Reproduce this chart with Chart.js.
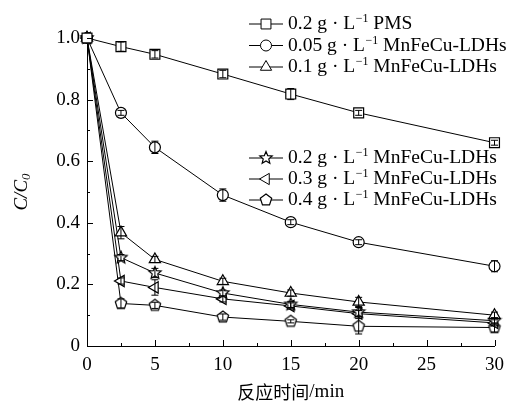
<!DOCTYPE html>
<html>
<head>
<meta charset="utf-8">
<script src="https://cdn.jsdelivr.net/npm/chart.js@4.4.1/dist/chart.umd.min.js"></script>
<style>
  html, body { margin: 0; padding: 0; background: #fff; }
  #grafico { display: block; }
</style>
</head>
<body>
<canvas id="grafico" width="512" height="403"></canvas>
<script>
const tempos = [0, 2.5, 5, 10, 15, 20, 30];

const rotulos = [
    '0.2 g · L|−1| PMS',
    '0.05 g · L|−1| MnFeCu-LDHs',
    '0.1 g · L|−1| MnFeCu-LDHs',
    '0.2 g · L|−1| MnFeCu-LDHs',
    '0.3 g · L|−1| MnFeCu-LDHs',
    '0.4 g · L|−1| MnFeCu-LDHs'
];

const pms = [1.0, 0.972, 0.947, 0.883, 0.818, 0.757, 0.66];
const ldh005 = [1.0, 0.757, 0.645, 0.49, 0.402, 0.337, 0.259];
const ldh01 = [1.0, 0.368, 0.281, 0.21, 0.172, 0.143, 0.1];
const ldh02 = [1.0, 0.287, 0.237, 0.172, 0.135, 0.11, 0.082];
const ldh03 = [1.0, 0.211, 0.19, 0.153, 0.13, 0.105, 0.075];
const ldh04 = [1.0, 0.138, 0.132, 0.094, 0.08, 0.064, 0.06];

const errPms = [0, 0.015, 0.012, 0.012, 0.018, 0.008, 0.008];
const err005 = [0, 0.008, 0.02, 0.02, 0.008, 0.008, 0.018];
const err01 = [0, 0.02, 0.01, 0.01, 0.01, 0.015, 0.01];
const err02 = [0, 0.01, 0.015, 0.01, 0.01, 0.015, 0.01];
const err03 = [0, 0.01, 0.025, 0.01, 0.01, 0.01, 0.01];
const err04 = [0, 0.015, 0.01, 0.01, 0.005, 0.025, 0.015];

const FONTE = "'Liberation Serif', 'DejaVu Serif', serif";

function criarMarcador(pontos, raio, rot) {
    const c = document.createElement('canvas');
    c.width = 16; c.height = 16;
    const g = c.getContext('2d');
    g.beginPath();
    for (let i = 0; i < pontos; i++) {
        const r = (rot && i % 2 === 1) ? raio * 0.45 : raio;
        const a = -Math.PI / 2 + i * 2 * Math.PI / pontos;
        const px = 8 + r * Math.cos(a), py = 8 + r * Math.sin(a);
        if (i === 0) g.moveTo(px, py); else g.lineTo(px, py);
    }
    g.closePath();
    g.fillStyle = '#fff';
    g.fill();
    g.lineWidth = 1.2;
    g.strokeStyle = '#000';
    g.stroke();
    return c;
}

const estrela = criarMarcador(10, 6.5, true);
const pentagono = criarMarcador(5, 6, false);

function serie(valores, erros, estilo, raio, rotacao) {
    return {
        data: tempos.map((t, i) => ({ x: t, y: valores[i] })),
        erros: erros,
        borderColor: '#000',
        borderWidth: 1,
        pointStyle: estilo,
        pointRadius: raio,
        pointRotation: rotacao || 0,
        pointBackgroundColor: '#fff',
        pointBorderColor: '#000',
        pointBorderWidth: 1.2,
        tension: 0,
        clip: false
    };
}

const conjuntos = [
    serie(pms, errPms, 'rect', 7),
    serie(ldh005, err005, 'circle', 5.5),
    serie(ldh01, err01, 'triangle', 6.5),
    serie(ldh02, err02, estrela, 6),
    serie(ldh03, err03, 'triangle', 6.5, -90),
    serie(ldh04, err04, pentagono, 6)
];

const barrasErro = {
    id: 'barrasErro',
    afterDatasetsDraw(chart) {
        const ctx = chart.ctx;
        const y = chart.scales.y;
        ctx.save();
        ctx.strokeStyle = '#000';
        ctx.lineWidth = 1;
        chart.data.datasets.forEach((ds, k) => {
            const meta = chart.getDatasetMeta(k);
            meta.data.forEach((pt, i) => {
                const e = ds.erros[i];
                if (!e) return;
                const v = ds.data[i].y;
                const y1 = y.getPixelForValue(v - e), y2 = y.getPixelForValue(v + e);
                ctx.beginPath();
                ctx.moveTo(pt.x, y1); ctx.lineTo(pt.x, y2);
                ctx.moveTo(pt.x - 3.5, y1); ctx.lineTo(pt.x + 3.5, y1);
                ctx.moveTo(pt.x - 3.5, y2); ctx.lineTo(pt.x + 3.5, y2);
                ctx.stroke();
            });
        });
        ctx.restore();
    }
};

const marcasEixo = {
    id: 'marcasEixo',
    afterDraw(chart) {
        const ctx = chart.ctx;
        const { x, y } = chart.scales;
        const area = chart.chartArea;
        ctx.save();
        ctx.strokeStyle = '#000';
        ctx.lineWidth = 1;
        ctx.beginPath();
        for (let v = 0; v <= 30.01; v += 2.5) {
            const px = Math.round(x.getPixelForValue(v)) + 0.5;
            const len = (v % 5 === 0) ? 6 : 3;
            ctx.moveTo(px, area.bottom);
            ctx.lineTo(px, area.bottom - len);
        }
        for (let i = 0; i <= 10; i++) {
            const py = Math.round(y.getPixelForValue(i / 10)) + 0.5;
            const len = (i % 2 === 0) ? 6 : 3;
            ctx.moveTo(area.left, py);
            ctx.lineTo(area.left + len, py);
        }
        ctx.stroke();

        // titulos dos eixos
        ctx.fillStyle = '#000';
        ctx.textBaseline = 'middle';
        ctx.textAlign = 'center';
        ctx.font = "18px 'Noto Sans CJK SC', sans-serif";
        const cx = (area.left + area.right) / 2;
        const tx = ctx.measureText('反应时间').width;
        ctx.font = '19px ' + FONTE;
        const tm = ctx.measureText('/min').width;
        let sx = cx - (tx + tm) / 2;
        ctx.textAlign = 'left';
        ctx.font = "18px 'Noto Sans CJK SC', sans-serif";
        ctx.fillText('反应时间', sx, 392);
        ctx.font = '19px ' + FONTE;
        ctx.fillText('/min', sx + tx, 392);

        ctx.translate(22, (area.top + area.bottom) / 2);
        ctx.rotate(-Math.PI / 2);
        ctx.font = 'italic 19px ' + FONTE;
        const w1 = ctx.measureText('C/C').width;
        ctx.font = 'italic 13px ' + FONTE;
        const w2 = ctx.measureText('0').width;
        const inicio = -(w1 + w2) / 2;
        ctx.font = 'italic 19px ' + FONTE;
        ctx.fillText('C/C', inicio, 0);
        ctx.font = 'italic 13px ' + FONTE;
        ctx.fillText('0', inicio + w1, 5);
        ctx.restore();
    }
};

const legendaPersonalizada = {
    id: 'legendaPersonalizada',
    afterDraw(chart) {
        const ctx = chart.ctx;
        const linhasY = [24, 45.5, 67, 158, 179, 200];
        ctx.save();
        chart.data.datasets.forEach((ds, k) => {
            const yy = linhasY[k];
            ctx.strokeStyle = '#000';
            ctx.lineWidth = 1;
            ctx.beginPath();
            ctx.moveTo(249, yy); ctx.lineTo(283, yy);
            ctx.stroke();
            ctx.fillStyle = '#fff';
            Chart.helpers.drawPoint(ctx, {
                pointStyle: ds.pointStyle,
                radius: ds.pointRadius,
                rotation: ds.pointRotation,
                borderWidth: 1.2
            }, 266, yy);
            ctx.fillStyle = '#000';
            ctx.textBaseline = 'middle';
            ctx.textAlign = 'left';
            const partes = rotulos[k].split('|');
            let px = 288;
            ctx.font = '19.5px ' + FONTE;
            ctx.fillText(partes[0], px, yy);
            px += ctx.measureText(partes[0]).width;
            ctx.font = '12px ' + FONTE;
            ctx.fillText(partes[1], px + 0.5, yy - 5);
            px += ctx.measureText(partes[1]).width + 0.5;
            ctx.font = '19.5px ' + FONTE;
            ctx.fillText(partes[2], px, yy);
        });
        ctx.restore();
    }
};

new Chart(document.getElementById('grafico'), {
    type: 'line',
    data: { datasets: conjuntos },
    options: {
        responsive: false,
        animation: false,
        layout: { padding: { top: 38, right: 12, left: 0, bottom: 0 } },
        plugins: { legend: { display: false }, tooltip: { enabled: false } },
        scales: {
            x: {
                type: 'linear',
                min: 0, max: 30,
                afterFit: (s) => { s.height = 57; },
                grid: { display: false, drawTicks: false },
                border: { display: true, color: '#000', width: 1 },
                ticks: { stepSize: 5, padding: 8, color: '#000', font: { family: FONTE, size: 19 } }
            },
            y: {
                min: 0, max: 1.0,
                afterFit: (s) => { s.width = 87; },
                grid: { display: false, drawTicks: false },
                border: { display: true, color: '#000', width: 1 },
                ticks: {
                    stepSize: 0.2, padding: 7, color: '#000',
                    font: { family: FONTE, size: 19 },
                    callback: (v) => v === 0 ? '0' : v.toFixed(1)
                }
            }
        }
    },
    plugins: [barrasErro, marcasEixo, legendaPersonalizada]
});
</script>
</body>
</html>
